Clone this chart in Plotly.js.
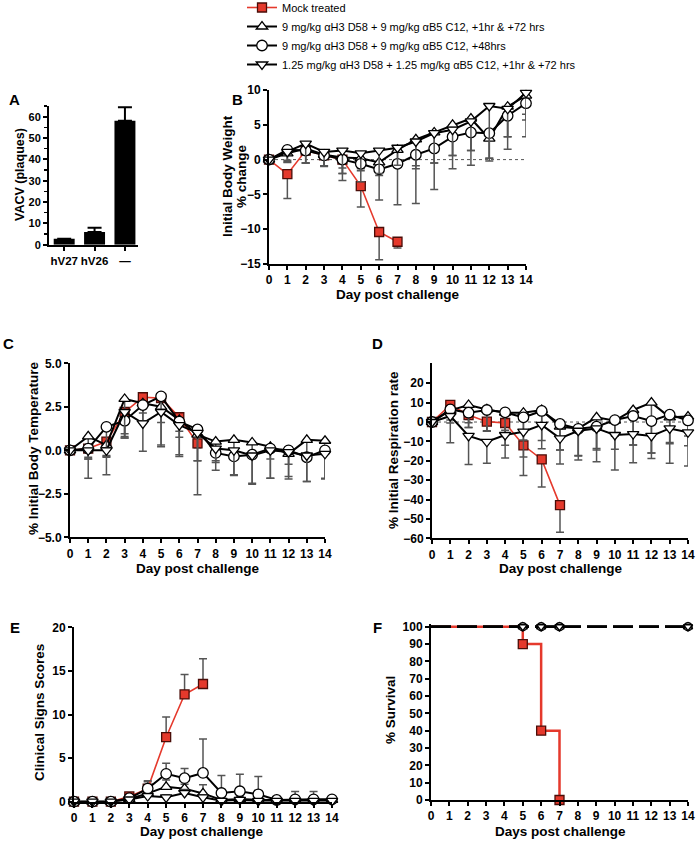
<!DOCTYPE html>
<html>
<head>
<meta charset="utf-8">
<script src="https://cdn.plot.ly/plotly-3.0.1.min.js"></script>
<style>body{margin:0;background:#fff}</style>
</head>
<body>
<div id="chart" style="width:699px;height:842px"></div>
<script>
// A - plaques
const aLabels = ['hV27', 'hV26', '\u2014'];
const aValues = [2.8, 5.9, 58.1];
const aErr = [0, 2.1, 6.3];

const days = [0, 1, 2, 3, 4, 5, 6, 7, 8, 9, 10, 11, 12, 13, 14];
const mockDays = [0, 1, 2, 3, 4, 5, 6, 7];

const seriesNames = [
  'Mock treated',
  '9 mg/kg \u03b1H3 D58 + 9 mg/kg \u03b1B5 C12, +1hr & +72 hrs',
  '9 mg/kg \u03b1H3 D58 + 9 mg/kg \u03b1B5 C12, +48hrs',
  '1.25 mg/kg \u03b1H3 D58 + 1.25 mg/kg \u03b1B5 C12, +1hr & +72 hrs'
];

// B - body weight % change (mean, sd)
const bMock = [0, -2.1, 1.3, 0.6, 0.0, -3.8, -10.4, -11.8];
const bMockSd = [0, 3.5, 0.6, 0.5, 1.2, 3.0, 4.0, 0.9];
const bHi = [0, 0.9, 1.6, 0.7, 0.3, 0.2, -0.4, 1.4, 2.9, 3.9, 5.0, 5.9, 3.0, 7.6, 9.2];
const bHiSd = [0, 1.2, 2.1, 1.6, 2.3, 1.5, 1.9, 2.0, 4.2, 4.4, 4.4, 4.6, 2.8, 4.3, 3.5];
const b48 = [0, 1.4, 1.3, 0.6, 0.0, -0.6, -1.4, -0.6, 0.7, 1.6, 3.3, 3.9, 3.8, 6.3, 8.1];
const b48Sd = [0, 1.5, 1.8, 1.6, 3.0, 2.6, 4.4, 5.9, 7.0, 5.9, 4.6, 4.7, 4.0, 4.8, 4.8];
const bLo = [0, 1.1, 2.3, 1.1, 1.3, 0.9, 1.3, 1.7, 2.6, 3.8, 4.3, 5.5, 7.7, 7.3, 9.6];
const bLoSd = [0, 1.5, 2.8, 2.0, 3.3, 2.5, 3.3, 2.5, 3.5, 4.3, 3.7, 4.2, 7.5, 4.0, 3.1];

// C - body temperature
const cMock = [0, 0.1, 0.5, 2.2, 3.05, 3.0, 1.9, 0.4];
const cMockSd = [0, 0.5, 0.8, 1.4, 0.9, 0.7, 0.8, 0.25];
const cHi = [0, 0.8, 0.3, 2.95, 2.7, 2.5, 1.75, 0.9, 0.5, 0.6, 0.45, 0.2, -0.2, 0.6, 0.55];
const cHiSd = [0, 1.3, 0.7, 2.0, 1.0, 0.9, 1.0, 1.5, 1.1, 0.8, 0.9, 0.7, 0.6, 0.9, 0.8];
const c48 = [0, 0.1, 1.35, 1.7, 2.6, 3.1, 1.65, 1.2, -0.15, -0.35, -0.25, 0.1, 0, -0.4, 0];
const c48Sd = [0, 0.6, 1.7, 1.0, 1.0, 2.8, 1.9, 3.75, 1.0, 1.1, 1.7, 1.7, 1.65, 1.4, 1.65];
const cLo = [0, 0, 0, 2.2, 1.55, 2.2, 1.45, 1.0, 0.1, 0, -0.3, 0, -0.1, -0.3, -0.2];
const cLoSd = [0, 1.6, 1.4, 1.5, 1.6, 2.0, 1.8, 1.6, 0.8, 1.4, 1.6, 1.6, 1.4, 1.5, 1.4];

// D - respiration rate
const dMock = [0, 8.8, 3.6, 0.2, -0.5, -12.0, -19.3, -42.9];
const dMockSd = [0, 2.0, 4.0, 5.0, 6.0, 15.6, 14.2, 14.0];
const dHi = [0, 6.0, 8.8, 6.5, 4.8, 4.8, 6.2, -2.4, -3.3, 2.4, 0.7, 6.2, 10.0, 2.4, 2.8];
const dHiSd = [0, 5.0, 11.6, 11.0, 9.0, 9.0, 8.0, 12.0, 14.0, 16.0, 8.0, 18.0, 26.0, 13.0, 10.0];
const d48 = [0, 6.5, 4.8, 6.2, 5.0, 2.4, 5.7, -1.0, -3.5, -2.4, 1.0, 3.1, 0.5, 3.8, 0.8];
const d48Sd = [0, 7.0, 7.6, 11.0, 17.0, 11.7, 19.5, 13.5, 14.0, 12.0, 15.0, 15.0, 16.5, 15.0, 13.0];
const dLo = [0, 3.1, -7.2, -10.2, -6.7, -5.0, -1.5, -8.4, -4.5, -3.3, -6.7, -6.2, -7.2, -3.3, -5.3];
const dLoSd = [0, 13.8, 14.7, 11.1, 11.9, 13.0, 8.0, 13.3, 15.1, 17.2, 18.1, 14.8, 11.6, 18.0, 17.4];

// E - clinical signs
const eMock = [0, 0, 0, 0.6, 1.5, 7.4, 12.3, 13.5];
const eMockSd = [0, 0, 0, 0.2, 0.8, 2.3, 2.3, 2.9];
const eHi = [0, 0, 0, 0.3, 0.95, 1.7, 1.5, 0.95, 0.2, 0.3, 0.2, 0.2, 0.2, 0.2, 0.2];
const eHiSd = [0, 0, 0, 0.2, 0.6, 0.8, 0.5, 1.0, 0.3, 0.3, 0.3, 0.2, 0.3, 0.3, 0.2];
const e48 = [0, 0, 0, 0.4, 1.5, 3.2, 2.7, 3.3, 1.0, 1.2, 0.85, 0.2, 0.27, 0.27, 0.27];
const e48Sd = [0, 0, 0, 0.3, 0.9, 1.2, 1.1, 3.9, 2.0, 1.95, 2.05, 0.3, 0.9, 0.9, 0.3];
const eLo = [0, 0, 0, 0.25, 0.65, 0.5, 1.0, 0.5, 0.1, 0.2, 0.1, 0.1, 0.1, 0.1, 0.1];
const eLoSd = [0, 0, 0, 0.1, 0.3, 0.3, 0.4, 0.3, 0.1, 0.1, 0.1, 0.1, 0.1, 0.1, 0.1];

// F - survival
const fDays = [0, 5, 6, 7, 14];
const fTreated = [100, 100, 100, 100, 100];
const fMockDays = [0, 5, 6, 7];
const fMock = [100, 90, 40, 0];

const W = 699, H = 842;
const RED = '#e5392c';
const FONT = 'Liberation Sans, Arial, sans-serif';
const symbols = ['square', 'triangle-up', 'circle', 'triangle-down'];
const sizes = [9, 10, 10.5, 10];

function px(a, b) { return [a / W, b / W]; }
function py(top, bottom) { return [1 - bottom / H, 1 - top / H]; }

function series(x, y, sd, k, n, dir, legend) {
  const isMock = k === 0;
  const zeros = sd.map(() => 0);
  return {
    x: x, y: y, type: 'scatter', mode: 'lines+markers', name: seriesNames[k],
    xaxis: 'x' + n, yaxis: 'y' + n, showlegend: legend, legendgroup: 's' + k,
    cliponaxis: false,
    line: {color: isMock ? RED : '#000', width: isMock ? 1.6 : 2},
    marker: {symbol: symbols[k], size: sizes[k], color: isMock ? RED : '#fff', opacity: 1,
             line: {color: isMock ? '#4a0d08' : '#000', width: 1.3}},
    error_y: {type: 'data', symmetric: false,
              array: dir === 'up' ? sd : zeros,
              arrayminus: dir === 'up' ? zeros : sd,
              color: '#555', thickness: 1.5, width: 4}
  };
}

const traces = [];
traces.push({
  x: aLabels, y: aValues, type: 'bar', xaxis: 'x', yaxis: 'y', showlegend: false,
  marker: {color: '#000'}, width: 0.69,
  error_y: {type: 'data', symmetric: false, array: aErr, arrayminus: aErr.map(() => 0),
            color: '#000', thickness: 2, width: 7}
});

const panels = [
  [2, [bMock, b48, bHi, bLo], [bMockSd, b48Sd, bHiSd, bLoSd], 'down'],
  [3, [cMock, c48, cHi, cLo], [cMockSd, c48Sd, cHiSd, cLoSd], 'down'],
  [4, [dMock, d48, dHi, dLo], [dMockSd, d48Sd, dHiSd, dLoSd], 'down'],
  [5, [eMock, e48, eHi, eLo], [eMockSd, e48Sd, eHiSd, eLoSd], 'up']
];
panels.forEach(function (p) {
  const n = p[0], ys = p[1], sds = p[2];
  // order: mock, +1hr&+72 (tri-up), +48hrs (circle), 1.25 (tri-down)
  traces.push(series(mockDays, ys[0], sds[0], 0, n, p[3], n === 2));
  traces.push(series(days, ys[2], sds[2], 1, n, p[3], n === 2));
  traces.push(series(days, ys[1], sds[1], 2, n, p[3], n === 2));
  traces.push(series(days, ys[3], sds[3], 3, n, p[3], n === 2));
});

// survival curves
traces.push({
  x: fMockDays, y: fMock, type: 'scatter', mode: 'lines+markers', xaxis: 'x6', yaxis: 'y6',
  showlegend: false, cliponaxis: false, line: {color: RED, width: 2.5, shape: 'hv'},
  marker: {symbol: 'square', color: RED, opacity: 1, size: fMockDays.map(d => d === 0 ? 0 : 9),
           line: {color: '#4a0d08', width: 1.3}}
});
[1, 2, 3].forEach(function (k) {
  traces.push({
    x: fDays, y: fTreated, type: 'scatter', mode: 'lines+markers', xaxis: 'x6', yaxis: 'y6',
    showlegend: false, cliponaxis: false, line: {color: '#000', width: 2.5, dash: '20px,6px', shape: 'hv'},
    marker: {symbol: symbols[k], color: '#fff', opacity: 1, size: fDays.map(d => d === 0 ? 0 : 8),
             line: {color: '#000', width: 1.5}}
  });
});

const tickFont = {family: FONT, size: 12, color: '#000', weight: 700};
function axis(extra) {
  return Object.assign({
    showline: true, linewidth: 2, linecolor: '#000', ticks: 'outside', ticklen: 4,
    tickwidth: 2, tickcolor: '#000', showgrid: false, zeroline: false,
    tickfont: tickFont, fixedrange: true
  }, extra);
}
function dayAxis(dom, n) {
  return axis({domain: dom, anchor: 'y' + n, range: [0, 14], tickmode: 'linear', dtick: 1, tick0: 0});
}

function note(text, x, y, size, angle) {
  return {text: text, x: x / W, y: 1 - y / H, xref: 'paper', yref: 'paper', showarrow: false,
          xanchor: 'center', yanchor: 'middle', textangle: angle || 0,
          font: {family: FONT, size: size, color: '#000', weight: 700}};
}

const zeroLine = function (n) {
  return {type: 'line', xref: 'x' + n, yref: 'y' + n, x0: 0, x1: 14, y0: 0, y1: 0, layer: 'below',
          line: {color: '#555', width: 1, dash: 'dot'}};
};

const layout = {
  width: W, height: H, margin: {l: 0, r: 0, t: 0, b: 0, autoexpand: false},
  paper_bgcolor: '#fff', plot_bgcolor: 'rgba(0,0,0,0)',
  font: {family: FONT, color: '#000'},
  showlegend: true,
  legend: {x: 242 / W, y: 1 + 7 / H, xanchor: 'left', yanchor: 'top', bgcolor: 'rgba(0,0,0,0)',
           itemwidth: 30, tracegroupgap: 0, font: {family: FONT, size: 11, color: '#000'}},
  xaxis: axis({domain: px(49, 138), anchor: 'y', type: 'category', range: [-0.5, 2.43],
               tickangle: 0, tickfont: {family: FONT, size: 11.5, color: '#000', weight: 700}}),
  yaxis: axis({domain: py(106, 244.7), anchor: 'x', range: [0, 65], dtick: 10,
               tickfont: {family: FONT, size: 11, color: '#000', weight: 700},
               minor: {dtick: 5, ticks: 'outside', ticklen: 3, tickwidth: 1.5, tickcolor: '#000'}}),
  xaxis2: dayAxis(px(269, 526), 2),
  yaxis2: axis({domain: py(90, 264), anchor: 'x2', range: [-15, 10], dtick: 5}),
  xaxis3: dayAxis(px(70, 325), 3),
  yaxis3: axis({domain: py(363.3, 537.3), anchor: 'x3', range: [-5, 5], dtick: 2.5, tickformat: '.1f'}),
  xaxis4: dayAxis(px(432, 688), 4),
  yaxis4: axis({domain: py(363.3, 538.3), anchor: 'x4', range: [-60, 30.3],
                tickvals: [-60, -50, -40, -30, -20, -10, 0, 10, 20]}),
  xaxis5: dayAxis(px(74, 332), 5),
  yaxis5: axis({domain: py(627.3, 801.7), anchor: 'x5', range: [0, 20], dtick: 5}),
  xaxis6: dayAxis(px(431, 688), 6),
  yaxis6: axis({domain: py(624.1, 800), anchor: 'x6', range: [0, 101.5],
                tickvals: [0, 10, 20, 30, 40, 50, 60, 70, 80, 90, 100]}),
  shapes: [zeroLine(2), zeroLine(4)],
  annotations: [
    note('A', 14, 100, 15), note('B', 237, 100, 15), note('C', 8, 343, 15),
    note('D', 377, 343, 15), note('E', 15, 627, 15), note('F', 377, 627, 15),
    note('VACV (plaques)', 20, 175, 12.5, -90),
    note('Initial Body Weight', 227, 176, 13.5, -90),
    note('% change', 241, 176, 13.5, -90),
    note('Day post challenge', 398, 294, 13.5),
    note('% Initial Body Temperature', 33, 448, 13.5, -90),
    note('Day post challenge', 198, 568, 13.5),
    note('% Initial Respiration rate', 393, 450, 13.5, -90),
    note('Day post challenge', 561, 568, 13.5),
    note('Clinical Signs Scores', 39, 713, 13.5, -90),
    note('Day post challenge', 202, 831, 13.5),
    note('% Survival', 390, 710, 13.5, -90),
    note('Days post challenge', 560, 831, 13.5)
  ]
};

Plotly.newPlot('chart', traces, layout, {staticPlot: true, displayModeBar: false});
</script>
</body>
</html>
